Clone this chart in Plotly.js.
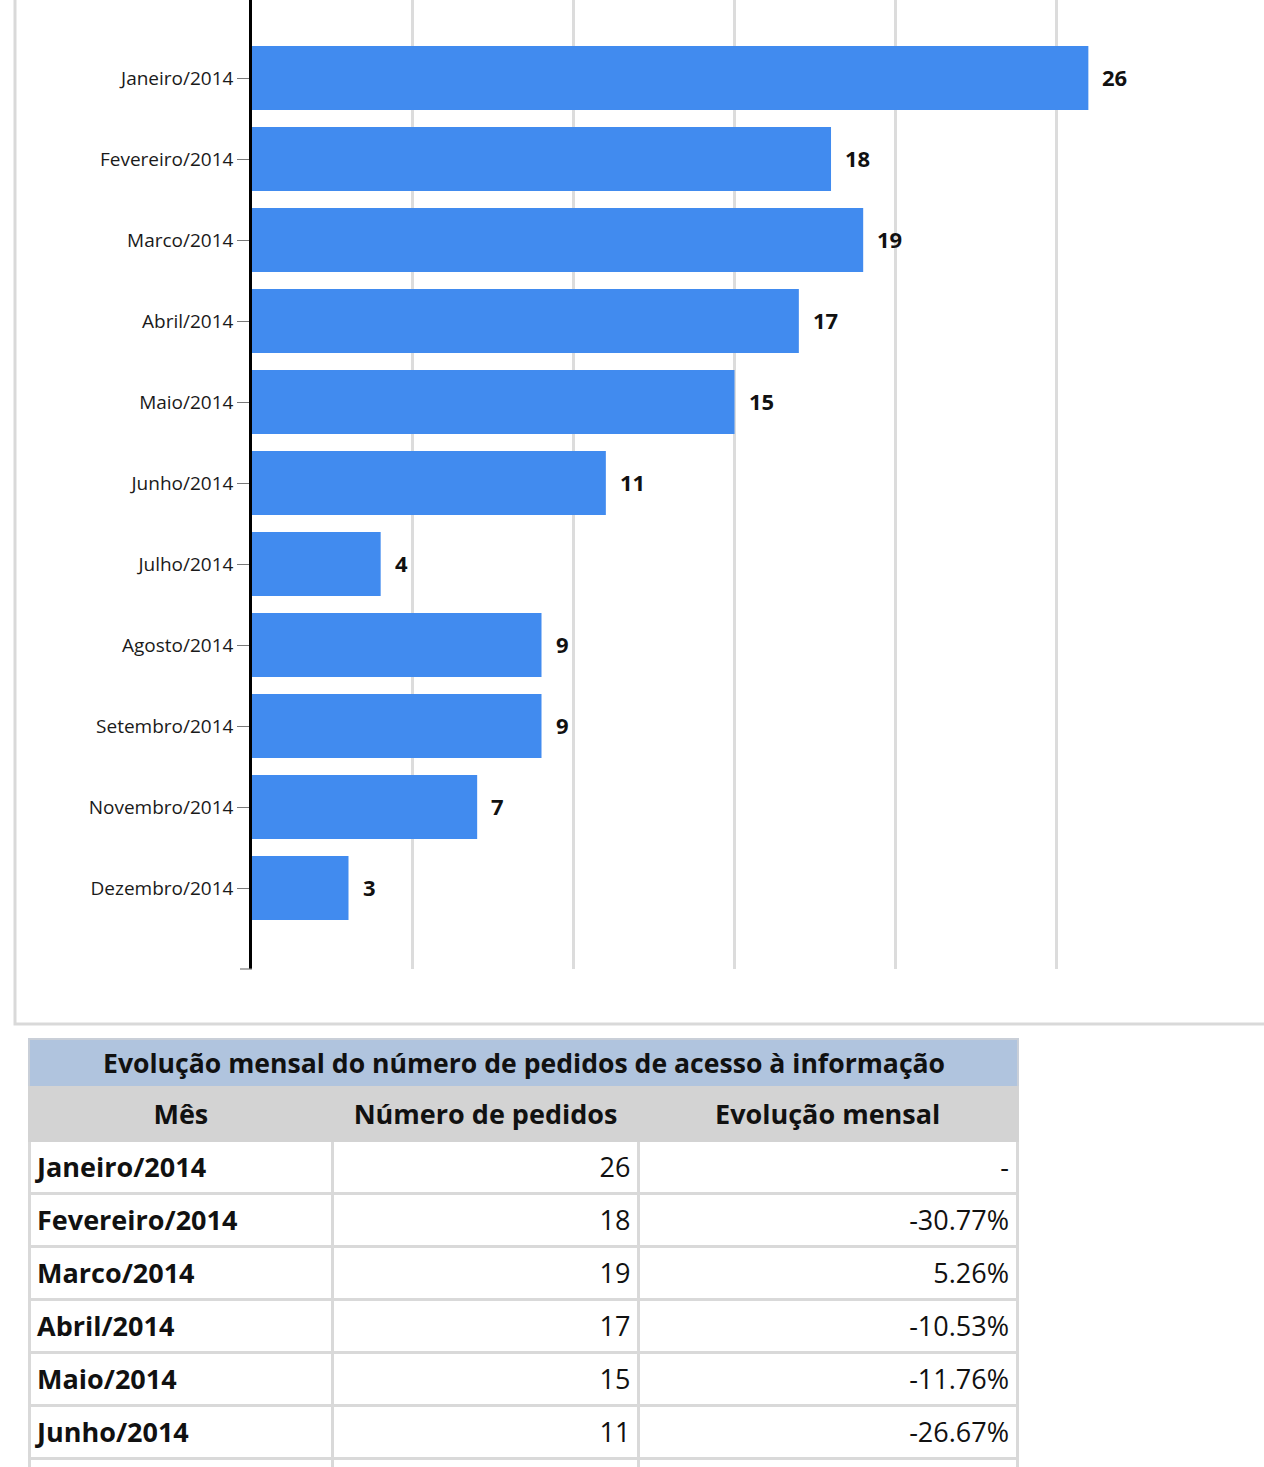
<!DOCTYPE html>
<html>
<head>
<meta charset="utf-8">
<script src="https://cdn.plot.ly/plotly-3.0.1.min.js"></script>
<style>
  html, body { margin: 0; padding: 0; background: #fff; }
  #wrap { width: 1264px; height: 1467px; overflow: hidden; position: relative; }
  #chart { width: 1264px; height: 1760px; }
</style>
</head>
<body>
<div id="wrap"><div id="chart"></div></div>
<script>
// ---- data ----
const months = ["Janeiro/2014", "Fevereiro/2014", "Marco/2014", "Abril/2014", "Maio/2014", "Junho/2014",
                "Julho/2014", "Agosto/2014", "Setembro/2014", "Novembro/2014", "Dezembro/2014"];
const requests = [26, 18, 19, 17, 15, 11, 4, 9, 9, 7, 3];
const monthlyChange = ["-", "-30.77%", "5.26%", "-10.53%", "-11.76%", "-26.67%"];
const tableTitle = "Evolução mensal do número de pedidos de acesso à informação";
const columnHeaders = ["Mês", "Número de pedidos", "Evolução mensal"];

// rows of the table visible in the (cropped) picture; one more row is cut at the bottom edge
const visibleRows = monthlyChange.length;

// ---- layout geometry ----
const W = 1264, H = 1760;
const px = v => v / W;
const py = v => (H - v) / H;   // pixel-from-top -> paper y

const bar = {
  type: "bar",
  orientation: "h",
  x: requests,
  y: months,
  marker: { color: "#418bef" },
  hoverinfo: "x+y",
  showlegend: false
};

const col1 = months.slice(0, visibleRows).map(m => "<b>" + m + "</b>").concat([""]);
const col2 = requests.slice(0, visibleRows).map(v => "<span>" + v + "</span>").concat([""]);
const col3 = monthlyChange.map(v => "<span>" + v + "</span>").concat([""]);

const mainTable = {
  type: "table",
  domain: { x: [px(29), px(1018)], y: [0, py(1087)] },
  columnwidth: [304, 306, 379],
  header: {
    values: columnHeaders.map(h => "<b>" + h + "</b>"),
    align: "center",
    height: 53,
    fill: { color: "#d3d3d3" },
    line: { color: "#d3d3d3", width: 3 },
    font: { family: "Open Sans", size: 27, color: "#111" }
  },
  cells: {
    values: [col1, col2, col3],
    align: ["left", "right", "right"],
    height: 53,
    fill: { color: "#ffffff" },
    line: { color: "#d9d9d9", width: 3 },
    font: { family: "Open Sans", size: 27, color: "#111" }
  }
};

const annotations = months.map((m, i) => ({
  x: requests[i], y: m, xref: "x", yref: "y",
  text: "<b>" + requests[i] + "</b>",
  showarrow: false, xanchor: "left", xshift: 12, yshift: 1,
  font: { family: "Open Sans", size: 22, color: "#111" }
}));

// table title row
annotations.push({
  xref: "paper", yref: "paper",
  x: (px(29) + px(1018)) / 2, y: (py(1039) + py(1087)) / 2,
  xanchor: "center", yanchor: "middle", showarrow: false,
  text: "<b>" + tableTitle + "</b>",
  font: { family: "Open Sans", size: 26.6, color: "#111" }
});

const layout = {
  width: W, height: H,
  margin: { l: 0, r: 0, t: 0, b: 0, pad: 0 },
  paper_bgcolor: "#ffffff",
  plot_bgcolor: "#ffffff",
  bargap: 0.21,
  font: { family: "Open Sans", color: "#111" },
  xaxis: {
    domain: [px(252), px(1218)],
    range: [0, 30.03],
    dtick: 5,
    showgrid: true,
    gridcolor: "#dcdcdc",
    gridwidth: 2.5,
    zeroline: false,
    showticklabels: false,
    showline: false,
    fixedrange: true
  },
  yaxis: {
    domain: [py(969), 1],
    type: "category",
    range: [11, -0.963],
    showline: true,
    linecolor: "#000",
    linewidth: 2.5,
    ticks: "outside",
    ticklen: 12,
    tickwidth: 1.2,
    tickcolor: "#777",
    showgrid: false,
    zeroline: false,
    tickfont: { family: "Open Sans", size: 19, color: "#1a1a1a" },
    fixedrange: true
  },
  annotations: annotations,
  shapes: [
    // outer chart frame (cut off at top and right)
    { type: "rect", xref: "paper", yref: "paper", layer: "below",
      x0: px(15), x1: px(1300), y0: py(1024), y1: py(-20),
      line: { color: "#d9d9d9", width: 3 }, fillcolor: "rgba(0,0,0,0)" },
    // small tick at bottom of category axis
    { type: "line", xref: "x domain", yref: "y domain",
      x0: -12 / 966, x1: 0, y0: 0, y1: 0,
      line: { color: "#777", width: 1.2 } },
    // table title row background
    { type: "rect", xref: "paper", yref: "paper", layer: "below",
      x0: px(29), x1: px(1018), y0: py(1087), y1: py(1039),
      fillcolor: "#b0c4de", line: { color: "#c9cfd8", width: 2 } }
  ]
};

Plotly.newPlot("chart", [bar, mainTable], layout, { displayModeBar: false });
</script>
</body>
</html>
